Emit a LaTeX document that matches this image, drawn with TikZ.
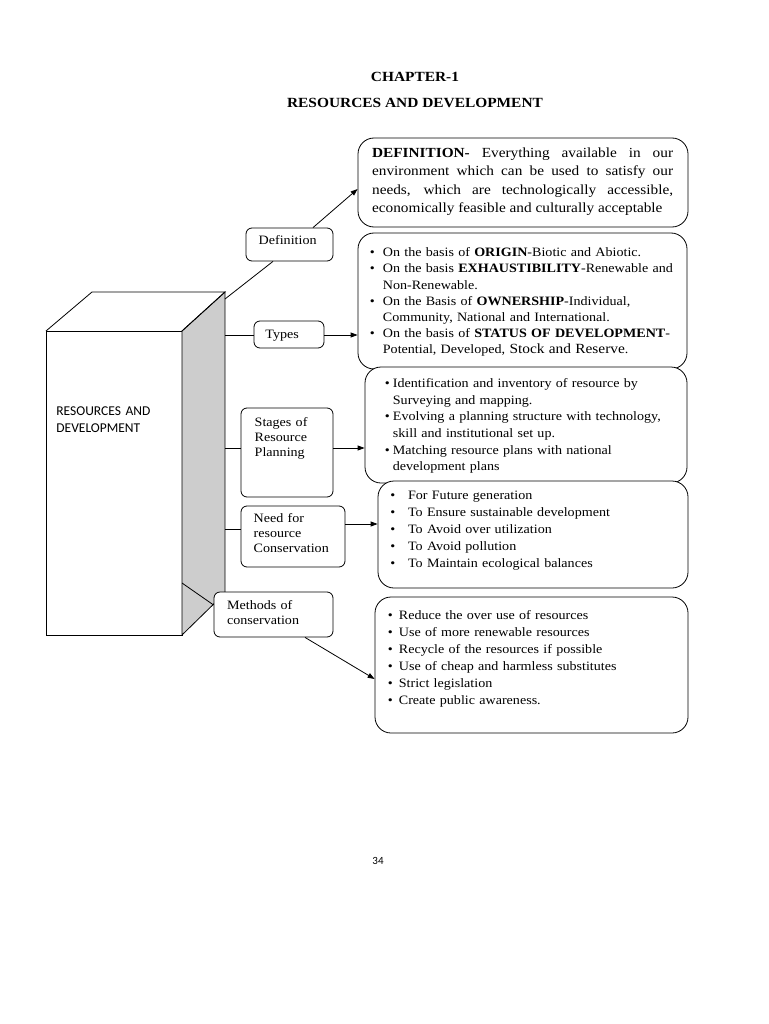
\documentclass[tikz,border=0pt]{standalone}
\usepackage{fontspec}
\setmainfont{Liberation Serif}[FakeStretch=1.1]
\newfontfamily\sansfam{Carlito}
\usetikzlibrary{arrows.meta}
\definecolor{sidegray}{RGB}{205,205,205}
\newcommand\mybul[1]{\makebox[#1][l]{\textbullet}}
\begin{document}
\begin{tikzpicture}[x=1pt,y=-1pt,line width=0.8pt,
  smallbox/.style={draw,rounded corners=6pt,inner sep=0pt,fill=white},
  bigbox/.style={draw,rounded corners=16pt,inner sep=0pt,fill=white},
  lbl/.style={anchor=base west,inner sep=0pt,align=left,text width=120pt,font=\fontsize{12.8}{15}\selectfont},
  blist/.style={anchor=base west,inner sep=0pt,align=left,text width=320pt},
  arr/.style={-{Triangle[length=7pt,width=5pt]}},
  ttl/.style={anchor=base,inner sep=0pt,font=\bfseries\fontsize{14}{16}\selectfont}
  ]
\useasboundingbox (0,0) rectangle (768,1024);

% titles
\node[ttl] (ch) at (415,81.6) {CHAPTER-1};
\node[ttl] (rd) at (415,107.6) {RESOURCES AND DEVELOPMENT};

% 3D block
\draw (46,331) rectangle (182,635);
\filldraw[fill=sidegray] (182,331) -- (225,292) -- (225,593) -- (182,635) -- cycle;
\draw (46,331) -- (92,292) -- (225,292) -- (182,331);
\node[anchor=base west,inner sep=0pt,align=left,text width=120pt,
      font=\sansfam\fontsize{13.5}{17}\selectfont] (main) at (56,415.5)
      {RESOURCES AND\\DEVELOPMENT};

% connector anchor points on the block
\coordinate (pdef) at (225,299);
\coordinate (ptyp) at (225,335);
\coordinate (pstg) at (225,448);
\coordinate (pneed) at (225,529.5);
\coordinate (pmeth) at (182,583);

% small boxes
\node[smallbox,minimum width=87pt,minimum height=33pt] (defl) at (289.5,244.5) {};
\node[smallbox,minimum width=70pt,minimum height=27pt] (typl) at (289,334.5) {};
\node[smallbox,minimum width=92pt,minimum height=89pt] (stgl) at (287,452.5) {};
\node[smallbox,minimum width=104pt,minimum height=61pt] (needl) at (293,536.5) {};
\node[smallbox,minimum width=119pt,minimum height=45pt] (methl) at (273.5,614.5) {};

\node[lbl] (defl-t) at (258.3,244.7) {Definition};
\node[lbl] (typl-t) at (265,338) {Types};
\node[lbl] (stgl-t) at (254.3,426.7) {Stages of\\Resource\\Planning};
\node[lbl] (needl-t) at (253.3,522.3) {Need for\\resource\\Conservation};
\node[lbl] (methl-t) at (226.7,609) {Methods of\\conservation};

% big boxes
\node[bigbox,minimum width=330pt,minimum height=89pt] (defbox) at (523,182.5) {};
\node[bigbox,minimum width=329pt,minimum height=136pt] (typbox) at (522.5,301) {};
\node[bigbox,minimum width=322pt,minimum height=116pt] (stgbox) at (526,425) {};
\node[bigbox,minimum width=310pt,minimum height=107pt] (needbox) at (533,534.5) {};
\node[bigbox,minimum width=313pt,minimum height=136pt] (methbox) at (531.5,665) {};

% big box texts
\node[anchor=base west,inner sep=0pt,text width=301pt,align=justify,
      font=\fontsize{13.9}{18.3}\selectfont] (deftxt) at (371.7,157.6)
  {\textbf{DEFINITION-} Everything available in our\linebreak
   environment which can be used to satisfy our\linebreak
   needs, which are technologically accessible,\linebreak
   economically feasible and culturally acceptable};

\node[blist,font=\fontsize{12.8}{16.2}\selectfont] (typtxt) at (369.5,256.7)
  {\mybul{13pt}On the basis of \textbf{ORIGIN}-Biotic and Abiotic.\\
   \mybul{13pt}On the basis \textbf{EXHAUSTIBILITY}-Renewable and\\
   \hspace*{13pt}Non-Renewable.\\
   \mybul{13pt}On the Basis of \textbf{OWNERSHIP}-Individual,\\
   \hspace*{13pt}Community, National and International.\\
   \mybul{13pt}On the basis of \textbf{STATUS OF DEVELOPMENT}-\\
   \hspace*{13pt}Potential, Developed, {\fontsize{14}{16}\selectfont Stock and Reserve}.};

\node[blist,font=\fontsize{12.8}{16.7}\selectfont] (stgtxt) at (384.5,387.3)
  {\mybul{8pt}Identification and inventory of resource by\\
   \hspace*{8pt}Surveying and mapping.\\
   \mybul{8pt}Evolving a planning structure with technology,\\
   \hspace*{8pt}skill and institutional set up.\\
   \mybul{8pt}Matching resource plans with national\\
   \hspace*{8pt}development plans};

\node[blist,font=\fontsize{12.8}{17}\selectfont] (needtxt) at (390,499)
  {\mybul{17.7pt}For Future generation\\
   \mybul{17.7pt}To Ensure sustainable development\\
   \mybul{17.7pt}To Avoid over utilization\\
   \mybul{17.7pt}To Avoid pollution\\
   \mybul{17.7pt}To Maintain ecological balances};

\node[blist,font=\fontsize{12.8}{17}\selectfont] (methtxt) at (387.5,619.7)
  {\mybul{11pt}Reduce the over use of resources\\
   \mybul{11pt}Use of more renewable resources\\
   \mybul{11pt}Recycle of the resources if possible\\
   \mybul{11pt}Use of cheap and harmless substitutes\\
   \mybul{11pt}Strict legislation\\
   \mybul{11pt}Create public awareness.};

% connectors
\draw (pdef) -- ([xshift=-16.5pt]defl.south);
\draw[arr] ([xshift=23.5pt]defl.north) -- ([yshift=-6.5pt]defbox.west);
\draw (ptyp) -- (typl.west |- ptyp);
\draw[arr] (typl.east |- ptyp) -- (typbox.west |- ptyp);
\draw (pstg) -- (stgl.west |- pstg);
\draw[arr] (stgl.east |- pstg) -- (stgbox.west |- pstg);
\draw (pneed) -- (needl.west |- pneed);
\draw[arr] (needl.east |- 0,524) -- (needbox.west |- 0,524);
\draw (pmeth) -- (methl.west |- 0,605);
\draw[arr] ([xshift=31.5pt]methl.south) -- (methbox.west |- 0,679);

% page number
\node[anchor=base,inner sep=0pt,font=\sansfam\fontsize{11}{12}\selectfont] (pg) at (378,864) {34};
\end{tikzpicture}
\end{document}
